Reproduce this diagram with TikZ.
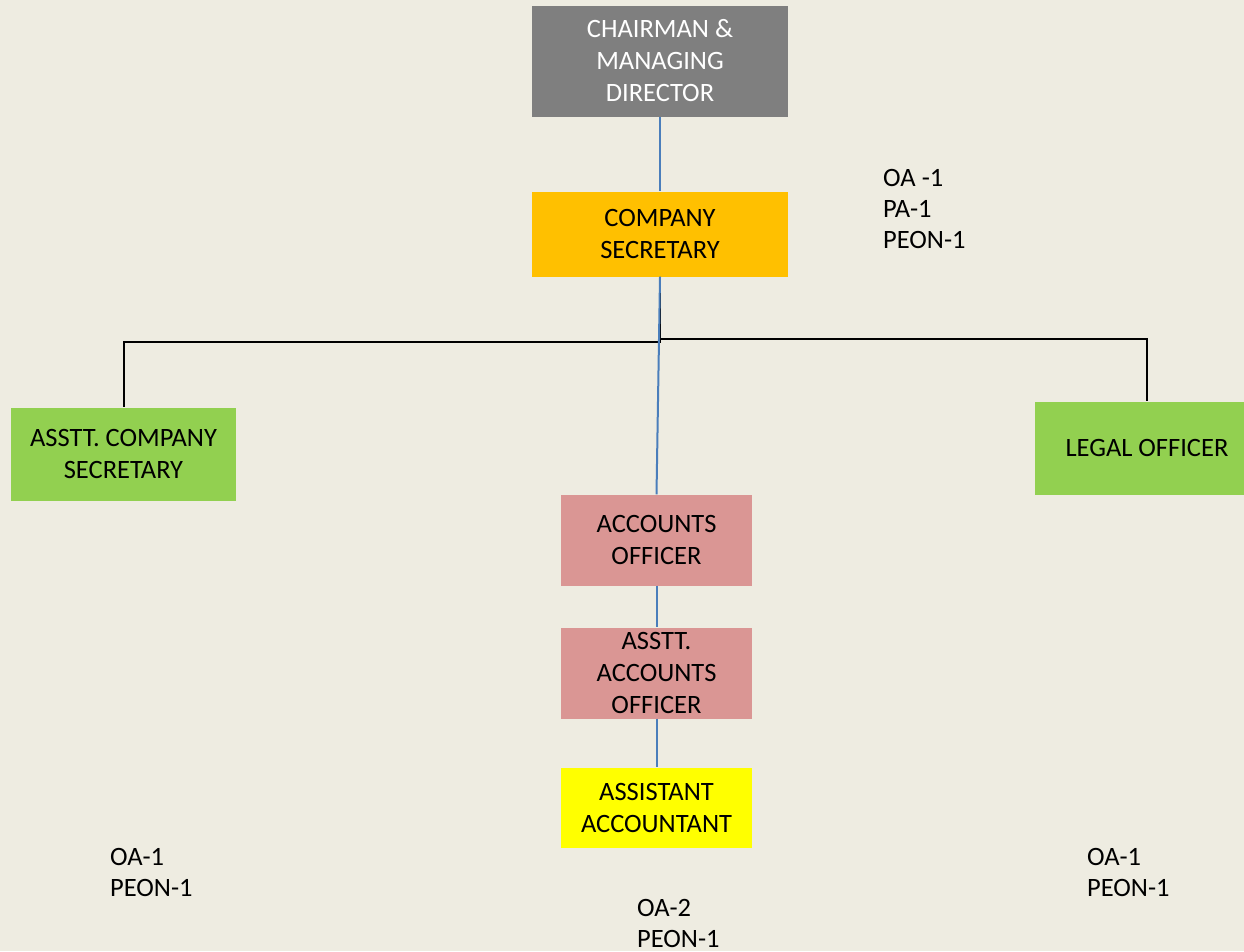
\documentclass[tikz,border=0pt]{standalone}
\usepackage{fontspec}
\setmainfont{Carlito}
\definecolor{bg}{HTML}{EEECE1}
\definecolor{gray1}{HTML}{7F7F7F}
\definecolor{orange1}{HTML}{FFC000}
\definecolor{green1}{HTML}{92D050}
\definecolor{pink1}{HTML}{DA9694}
\definecolor{yellow1}{HTML}{FFFF00}
\definecolor{blue1}{HTML}{4A7EBB}
\tikzset{
  box/.style={inner sep=0pt, align=center, font=\fontsize{26.5}{32}\selectfont, text=black},
  note/.style={inner sep=0pt, align=left, anchor=north west, font=\fontsize{26.5}{31}\selectfont, text=black},
  blueline/.style={draw=blue1, line width=2pt},
  blackline/.style={draw=black, line width=2pt},
}
\begin{document}
\begin{tikzpicture}[x=1pt,y=-1pt]
\useasboundingbox (0,0) rectangle (1244,951);
\fill[bg] (0,0) rectangle (1244,951);
\begin{scope}
\clip (0,0) rectangle (1244,951);
\node[box, fill=gray1, minimum width=256pt, minimum height=111pt, text=white] (cmd) at (660,61) {CHAIRMAN \&\\MANAGING\\DIRECTOR};
\node[box, fill=orange1, minimum width=256pt, minimum height=85pt] (cs) at (660,234) {COMPANY\\SECRETARY};
\node[box, fill=green1, minimum width=225pt, minimum height=93pt] (acs) at (123.5,454) {ASSTT. COMPANY\\SECRETARY};
\node[box, fill=green1, minimum width=224pt, minimum height=93pt] (lo) at (1147,448) {LEGAL OFFICER};
\node[box, fill=pink1, minimum width=191pt, minimum height=91pt] (ao) at (656.5,540) {ACCOUNTS\\OFFICER};
\node[box, fill=pink1, minimum width=191pt, minimum height=91pt] (aao) at (656.5,673) {ASSTT.\\ACCOUNTS\\OFFICER};
\node[box, fill=yellow1, minimum width=191pt, minimum height=80pt] (aa) at (656.5,807.5) {ASSISTANT\\ACCOUNTANT};
\end{scope}

\coordinate (jl) at (660,342);
\coordinate (jr) at (660,339);
\draw[blackline] (cs.south) -- (jl) -| (acs.north);
\draw[blackline] (jr) -| (lo.north);
\draw[blueline] (cmd.south) -- (cs.north);
\draw[blueline] (cs.south) -- (ao.north);
\draw[blueline] (ao.south) -- (aao.north);
\draw[blueline] (aao.south) -- (aa.north);

\node[note] (n1) at (883,169) {OA -1\\PA-1\\PEON-1};
\node[note] (n2) at (110,848) {OA-1\\PEON-1};
\node[note] (n3) at (637,899) {OA-2\\PEON-1};
\node[note] (n4) at (1087,848) {OA-1\\PEON-1};
\end{tikzpicture}
\end{document}
